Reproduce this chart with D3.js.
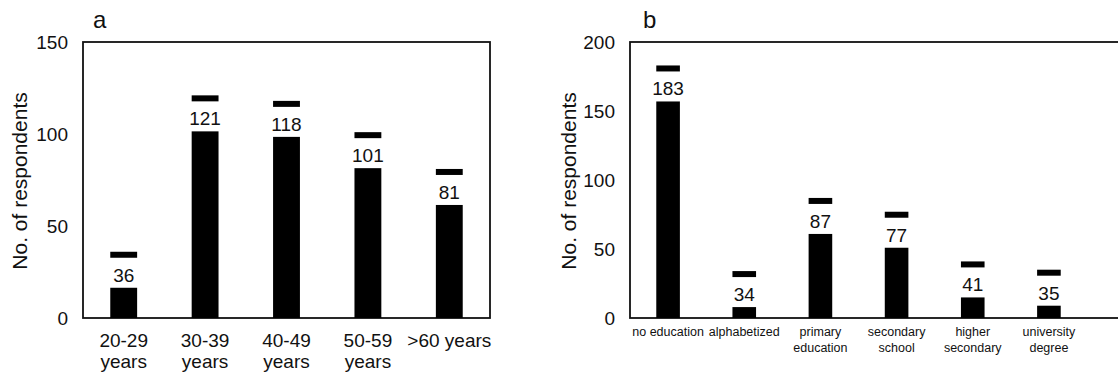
<!DOCTYPE html>
<html>
<head>
<meta charset="utf-8">
<script src="https://cdn.jsdelivr.net/npm/d3@7"></script>
<style>
  body { margin: 0; background: #fff; }
  svg text { font-family: "Liberation Sans", Arial, sans-serif; fill: #111; }
</style>
</head>
<body>
<div id="chart"></div>
<script>
// panel a: age groups
var ageLabels = [["20-29", "years"], ["30-39", "years"], ["40-49", "years"], ["50-59", "years"], [">60 years"]];
var ageValues = [36, 121, 118, 101, 81];
var ageTicks = [0, 50, 100, 150];

// panel b: education
var eduLabels = [["no education"], ["alphabetized"], ["primary", "education"], ["secondary", "school"], ["higher", "secondary"], ["university", "degree"]];
var eduValues = [183, 34, 87, 77, 41, 35];
var eduTicks = [0, 50, 100, 150, 200];

var svg = d3.select('#chart')
  .append('svg')
  .attr('width', 1118)
  .attr('height', 377);

function panel(opts) {
  var g = svg.append('g');
  var y = d3.scaleLinear().domain([0, opts.max]).range([318, 42]);
  var x = d3.scaleBand()
    .domain(opts.values.map(function(d, i) { return i; }))
    .range([opts.left, opts.right])
    .paddingInner(opts.pad)
    .paddingOuter(opts.pad / 2);

  // frame
  g.append('rect')
    .attr('x', opts.left).attr('y', 42)
    .attr('width', opts.frameRight - opts.left).attr('height', 276)
    .attr('fill', 'none').attr('stroke', '#111').attr('stroke-width', 1.8);

  // y axis, labels only
  var yAxis = d3.axisLeft(y).tickValues(opts.ticks).tickSize(0).tickPadding(15);
  g.append('g')
    .attr('transform', 'translate(' + opts.left + ',0)')
    .call(yAxis)
    .call(function(s) {
      s.select('.domain').remove();
      s.selectAll('text').style('font-size', '19px').attr('fill', '#111');
    });

  var bars = g.selectAll('.bar').data(opts.values).enter().append('g');
  bars.append('rect')
    .attr('x', function(d, i) { return x(i); })
    .attr('y', function(d) { return y(d); })
    .attr('width', x.bandwidth())
    .attr('height', function(d) { return 318 - y(d); })
    .attr('fill', '#000');
  // white box behind value
  bars.append('rect')
    .attr('x', function(d, i) { return x(i) - 6; })
    .attr('y', function(d) { return y(d) + 6; })
    .attr('width', x.bandwidth() + 12)
    .attr('height', 30)
    .attr('fill', '#fff');
  bars.append('text')
    .attr('x', function(d, i) { return x(i) + x.bandwidth() / 2; })
    .attr('y', function(d) { return y(d) + 30; })
    .attr('text-anchor', 'middle')
    .style('font-size', '19px')
    .text(function(d) { return d; });

  // category labels
  var cats = g.selectAll('.cat').data(opts.labels).enter().append('text')
    .attr('text-anchor', 'middle')
    .style('font-size', opts.catSize + 'px')
    .attr('transform', function(d, i) {
      return 'translate(' + (x(i) + x.bandwidth() / 2) + ',' + opts.catY + ')';
    });
  cats.selectAll('tspan').data(function(d) { return d; }).enter().append('tspan')
    .attr('x', 0)
    .attr('dy', function(d, j) { return j ? opts.catLine : 0; })
    .text(function(d) { return d; });

  // axis title
  g.append('text')
    .attr('transform', 'translate(' + opts.titleX + ',181) rotate(-90)')
    .attr('text-anchor', 'middle')
    .style('font-size', '21px')
    .text('No. of respondents');

  // panel letter
  g.append('text')
    .attr('x', opts.letterX).attr('y', 28)
    .style('font-size', '24px')
    .text(opts.letter);
}

panel({
  values: ageValues, labels: ageLabels, ticks: ageTicks, max: 150,
  left: 83, right: 490, frameRight: 490, pad: 0.67,
  catY: 347, catSize: 19, catLine: 21, titleX: 27, letterX: 93, letter: 'a'
});

panel({
  values: eduValues, labels: eduLabels, ticks: eduTicks, max: 200,
  left: 630, right: 1087, frameRight: 1130, pad: 0.69,
  catY: 336, catSize: 12.5, catLine: 16, titleX: 576, letterX: 643, letter: 'b'
});
</script>
</body>
</html>
